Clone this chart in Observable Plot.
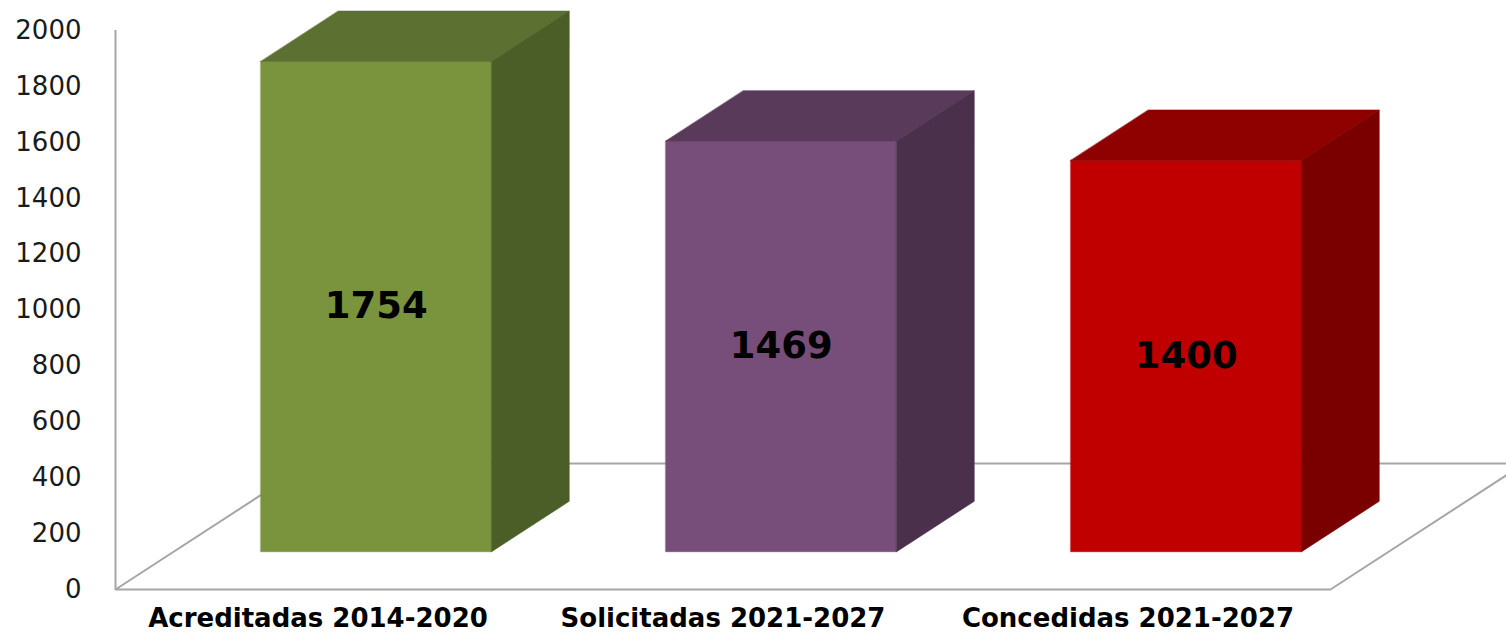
<!DOCTYPE html>
<html>
<head>
<meta charset="utf-8">
<script src="https://cdn.jsdelivr.net/npm/d3@7"></script>
<script src="https://cdn.jsdelivr.net/npm/@observablehq/plot@0.6"></script>
<style>
  html, body { margin: 0; padding: 0; background: #ffffff; }
  #chart svg { display: block; }
</style>
</head>
<body>
<div id="chart"></div>
<script>
// ---- data ----
const categories = ["Acreditadas 2014-2020", "Solicitadas 2021-2027", "Concedidas 2021-2027"];
const values = [1754, 1469, 1400];
const frontColors = ["#7A943D", "#774E79", "#C00000"];
const topColors = ["#5C7031", "#5A3A5B", "#8F0000"];
const sideColors = ["#4C5E27", "#4A304B", "#7A0000"];
const yTicks = [0, 200, 400, 600, 800, 1000, 1200, 1400, 1600, 1800, 2000];

// ---- 3D geometry (in scale units) ----
const W = 1506, H = 639;
const mL = 115, mR = 176, mT = 30, mB = 50;
const pxPerCat = (W - mL - mR) / categories.length;
const pxPerVal = (H - mT - mB) / 2000;
const DX = 194 / pxPerCat;   // full floor depth, horizontal (category units)
const DY = 126 / pxPerVal;   // full floor depth, vertical (value units)
const T0 = 0.3, T1 = 0.7;    // bar depth span
const LO = 0.215, HI = 0.785; // bar width within slot

const P = (x, v, t, id, color) => ({x: x + t * DX, y: v + t * DY, id, color});

const faces = [];
values.forEach((v, i) => {
  const x1 = i + LO, x2 = i + HI;
  faces.push(
    P(x1, 0, T0, "f" + i, frontColors[i]), P(x2, 0, T0, "f" + i, frontColors[i]),
    P(x2, v, T0, "f" + i, frontColors[i]), P(x1, v, T0, "f" + i, frontColors[i]),
    P(x1, v, T0, "t" + i, topColors[i]), P(x2, v, T0, "t" + i, topColors[i]),
    P(x2, v, T1, "t" + i, topColors[i]), P(x1, v, T1, "t" + i, topColors[i]),
    P(x2, 0, T0, "s" + i, sideColors[i]), P(x2, 0, T1, "s" + i, sideColors[i]),
    P(x2, v, T1, "s" + i, sideColors[i]), P(x2, v, T0, "s" + i, sideColors[i])
  );
});

const n = categories.length;
const floor = [
  {x: 0, y: 0}, {x: n, y: 0}, {x: n + DX, y: DY}, {x: DX, y: DY}
];

const labels = values.map((v, i) => ({x: i + 0.5 + T0 * DX, y: v / 2 + T0 * DY, text: String(v)}));

const chart = Plot.plot({
  width: W, height: H,
  marginLeft: mL, marginRight: mR, marginTop: mT, marginBottom: mB,
  style: {fontFamily: "'DejaVu Sans', Verdana, sans-serif", background: "#ffffff", color: "#1a1a1a"},
  x: {type: "linear", domain: [0, n], axis: null, label: null},
  y: {domain: [0, 2000], axis: null, label: null},
  marks: [
    Plot.line(floor, {x: "x", y: "y", curve: "linear-closed", stroke: "#a6a6a6", strokeWidth: 2, fill: "none"}),
    Plot.ruleX([0], {y1: 0, y2: 2000, stroke: "#a6a6a6", strokeWidth: 2}),
    Plot.line(faces, {x: "x", y: "y", z: "id", curve: "linear-closed", fill: "color", stroke: "color", strokeWidth: 0.6}),
    Plot.text(labels, {x: "x", y: "y", text: "text", fontSize: 37, fontWeight: "bold", fill: "#000000"}),
    Plot.axisY(yTicks, {tickSize: 0, tickPadding: 34, fontSize: 26, tickFormat: d3.format("d"), fill: "#1a1a1a", label: null}),
    Plot.axisX(categories.map((c, i) => i + 0.5), {
      tickSize: 0, tickPadding: 19, fontSize: 26, fontWeight: "bold", fill: "#000000", label: null,
      tickFormat: d => categories[Math.floor(d)]
    })
  ]
});
document.getElementById("chart").appendChild(chart);
</script>
</body>
</html>
